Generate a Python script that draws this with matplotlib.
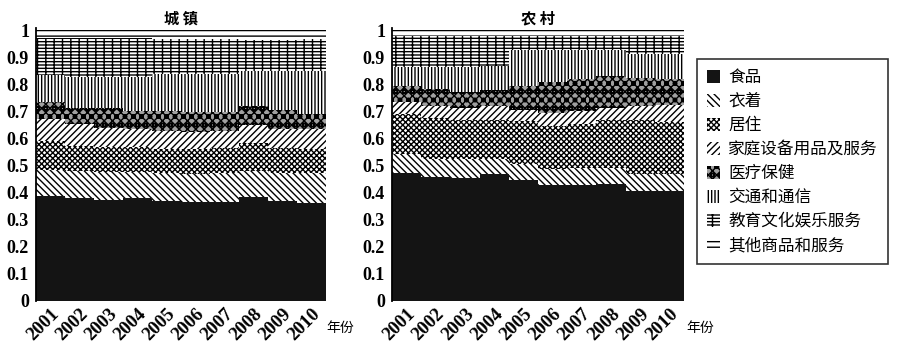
import matplotlib
matplotlib.use("Agg")
import matplotlib.pyplot as plt
from matplotlib.patches import Patch
import numpy as np

years = ["2001", "2002", "2003", "2004", "2005", "2006", "2007", "2008", "2009", "2010"]
categories = ["食品", "衣着", "居住", "家庭设备用品及服务", "医疗保健", "交通和通信", "教育文化娱乐服务", "其他商品和服务"]

urban_food = [0.387, 0.379, 0.375, 0.381, 0.371, 0.366, 0.366, 0.384, 0.369, 0.363]
urban_cloth = [0.097, 0.101, 0.103, 0.097, 0.101, 0.105, 0.108, 0.096, 0.105, 0.109]
urban_res = [0.108, 0.093, 0.091, 0.091, 0.091, 0.090, 0.093, 0.103, 0.093, 0.089]
urban_house = [0.080, 0.080, 0.072, 0.066, 0.066, 0.062, 0.062, 0.067, 0.068, 0.074]
urban_med = [0.062, 0.062, 0.074, 0.068, 0.074, 0.074, 0.068, 0.069, 0.070, 0.058]
urban_trans = [0.101, 0.114, 0.114, 0.126, 0.136, 0.142, 0.142, 0.132, 0.146, 0.158]
urban_edu = [0.137, 0.143, 0.143, 0.143, 0.131, 0.131, 0.131, 0.114, 0.112, 0.118]
urban_other = [0.028, 0.028, 0.028, 0.028, 0.030, 0.030, 0.030, 0.035, 0.037, 0.031]

rural_food = [0.474, 0.459, 0.455, 0.468, 0.449, 0.427, 0.427, 0.434, 0.406, 0.406]
rural_cloth = [0.068, 0.067, 0.069, 0.058, 0.056, 0.062, 0.066, 0.059, 0.062, 0.062]
rural_res = [0.149, 0.152, 0.146, 0.142, 0.161, 0.158, 0.160, 0.175, 0.200, 0.192]
rural_house = [0.043, 0.044, 0.043, 0.051, 0.041, 0.048, 0.050, 0.045, 0.054, 0.065]
rural_med = [0.059, 0.060, 0.059, 0.061, 0.089, 0.113, 0.118, 0.120, 0.101, 0.096]
rural_trans = [0.071, 0.082, 0.092, 0.090, 0.130, 0.118, 0.105, 0.093, 0.090, 0.092]
rural_edu = [0.116, 0.116, 0.116, 0.110, 0.054, 0.054, 0.054, 0.054, 0.067, 0.067]
rural_other = [0.020, 0.020, 0.020, 0.020, 0.020, 0.020, 0.020, 0.020, 0.020, 0.020]

urban = [urban_food, urban_cloth, urban_res, urban_house, urban_med, urban_trans, urban_edu, urban_other]
rural = [rural_food, rural_cloth, rural_res, rural_house, rural_med, rural_trans, rural_edu, rural_other]

styles = [
    dict(facecolor="#141414", hatch=None),
    dict(facecolor="white", hatch="\\" * 5),
    dict(facecolor="white", hatch="x" * 6),
    dict(facecolor="white", hatch="/" * 5),
    dict(facecolor="#a0a0a0", hatch="x" * 4 + "o" * 2),
    dict(facecolor="white", hatch="|" * 5),
    dict(facecolor="white", hatch="-" * 5 + "|" * 2),
    dict(facecolor="white", hatch="-" * 3),
]

plt.rcParams["hatch.linewidth"] = 1.0
cjk = ["Noto Sans CJK SC", "DejaVu Sans"]
serif = "Liberation Serif"

fig = plt.figure(figsize=(9, 3.47), dpi=100)
ax1 = fig.add_axes([0.040, 0.1326, 0.322, 0.7874])
ax2 = fig.add_axes([0.4356, 0.1326, 0.3244, 0.7874])

x = np.arange(len(years))
for ax, data, title in [(ax1, urban, "城 镇"), (ax2, rural, "农 村")]:
    bottom = np.zeros(len(years))
    for vals, st in zip(data, styles):
        vals = np.array(vals)
        ax.bar(x, vals, width=1.0, bottom=bottom, facecolor=st["facecolor"],
               edgecolor="black", linewidth=0, hatch=st["hatch"])
        bottom = bottom + vals
    ax.set_xlim(-0.5, len(years) - 0.5)
    ax.set_ylim(0, 1.01)
    ax.set_yticks(np.arange(0, 1.01, 0.1))
    ax.set_yticklabels(["0", "0.1", "0.2", "0.3", "0.4", "0.5", "0.6", "0.7", "0.8", "0.9", "1"],
                       fontfamily=serif, fontweight="bold", fontsize=13)
    ax.set_xticks(x)
    ax.set_xticklabels(years, rotation=45, ha="right", rotation_mode="anchor",
                       fontfamily=serif, fontweight="bold", fontsize=13.5)
    ax.tick_params(axis="x", length=0, pad=3)
    ax.tick_params(axis="y", length=0, pad=5)
    for s in ["top", "right", "bottom"]:
        ax.spines[s].set_visible(False)
    ax.spines["left"].set_linewidth(1.3)
    ax.set_title(title, family=cjk, fontweight="bold", fontsize=11, pad=3)

fig.text(326 / 900, 1 - 328 / 347, "年份", family=cjk, fontsize=10, ha="left", va="center")
fig.text(686 / 900, 1 - 328 / 347, "年份", family=cjk, fontsize=10, ha="left", va="center")

handles = [Patch(facecolor=st["facecolor"], edgecolor="black", linewidth=0, hatch=st["hatch"])
           for st in styles]
leg = fig.legend(handles, categories, loc="upper left", bbox_to_anchor=(0.774, 0.830),
                 prop={"family": cjk, "size": 12}, frameon=True, fancybox=False,
                 edgecolor="black", handlelength=0.8, handleheight=0.8, labelspacing=0.42,
                 borderpad=0.6, handletextpad=0.5, borderaxespad=0)
leg.get_frame().set_linewidth(1.2)

fig.savefig("out.png", dpi=100)
